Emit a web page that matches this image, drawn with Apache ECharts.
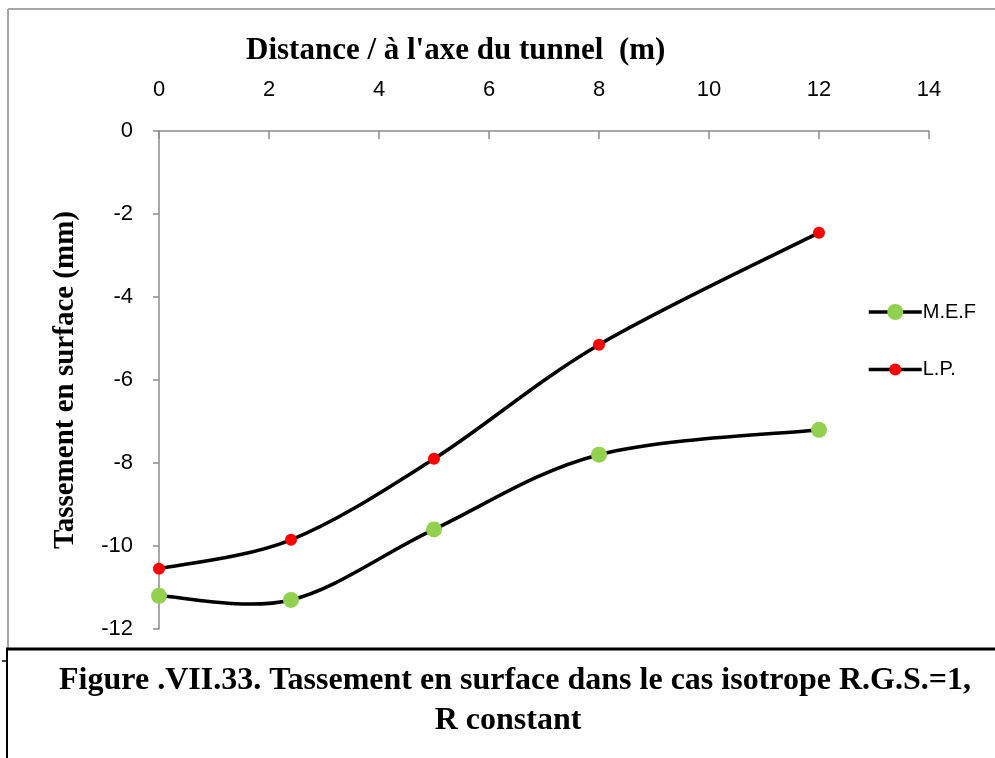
<!DOCTYPE html>
<html>
<head>
<meta charset="utf-8">
<script src="https://cdn.jsdelivr.net/npm/echarts@6/dist/echarts.min.js"></script>
<style>
html,body{margin:0;padding:0;background:#fff;}
#chart{width:995px;height:758px;}
</style>
</head>
<body>
<div id="chart"></div>
<script>
// ---- data ----
const distances = [0, 2.4, 5, 8, 12];
const mefValues = [-11.2, -11.3, -9.6, -7.8, -7.2];
const lpValues = [-10.55, -9.85, -7.9, -5.15, -2.45];
const seriesNames = ['M.E.F', 'L.P.'];
const xTitle = "Distance / à l'axe du tunnel  (m)";
const yTitle = 'Tassement en surface (mm)';
const captionLines = ['Figure .VII.33. Tassement en surface dans le cas isotrope R.G.S.=1,', 'R constant'];

const pairs = (xs, ys) => xs.map((x, i) => [x, ys[i]]);

const chart = echarts.init(document.getElementById('chart'), null, {renderer: 'canvas'});
const axisGray = '#8c8c8c';
const sansFont = '"Liberation Sans", Arial, sans-serif';
const serifFont = '"Liberation Serif", "Times New Roman", serif';

// Excel-like smoothed curve: one cubic bezier per segment, computed in pixel space via the axes
function smoothCurve(name, data) {
  return {
    name: name,
    type: 'custom',
    data: data,
    clip: false,
    silent: true,
    z: 2,
    renderItem: function (params, api) {
      const i = params.dataIndex;
      const n = data.length;
      if (i >= n - 1) return null;
      const P = k => api.coord(data[Math.max(0, Math.min(n - 1, k))]);
      const p0 = P(i - 1), p1 = P(i), p2 = P(i + 1), p3 = P(i + 2);
      return {
        type: 'bezierCurve',
        shape: {
          x1: p1[0], y1: p1[1],
          cpx1: p1[0] + (p2[0] - p0[0]) / 6, cpy1: p1[1] + (p2[1] - p0[1]) / 6,
          cpx2: p2[0] - (p3[0] - p1[0]) / 6, cpy2: p2[1] - (p3[1] - p1[1]) / 6,
          x2: p2[0], y2: p2[1]
        },
        style: {stroke: '#000', lineWidth: 3.5, fill: null, lineCap: 'round'}
      };
    }
  };
}

const legendCommon = {
  left: 862,
  itemWidth: 53,
  selectedMode: false,
  lineStyle: {color: '#000', width: 3.5, opacity: 1},
  textStyle: {fontFamily: sansFont, fontSize: 20, color: '#000', padding: [0, 0, 0, -4]}
};

chart.setOption({
  animation: false,
  backgroundColor: '#ffffff',
  title: {
    text: xTitle,
    left: 241,
    top: 30,
    textStyle: {fontFamily: serifFont, fontWeight: 'bold', fontSize: 31, color: '#000'}
  },
  grid: {left: 159, right: 66, top: 131, bottom: 129, containLabel: false},
  legend: [
    Object.assign({}, legendCommon, {data: [seriesNames[0]], top: 297, itemHeight: 20}),
    Object.assign({}, legendCommon, {data: [seriesNames[1]], top: 354.5, itemHeight: 15})
  ],
  xAxis: {
    type: 'value',
    position: 'top',
    min: 0, max: 14, interval: 2,
    axisLine: {show: true, onZero: false, lineStyle: {color: axisGray, width: 1.5}},
    axisTick: {show: true, inside: true, length: 8, lineStyle: {color: axisGray, width: 1.5}},
    axisLabel: {margin: 30, fontFamily: sansFont, fontSize: 22, color: '#000'},
    splitLine: {show: false}
  },
  yAxis: {
    type: 'value',
    min: -12, max: 0, interval: 2,
    name: yTitle,
    nameLocation: 'middle',
    nameGap: 79,
    nameRotate: 90,
    nameTextStyle: {fontFamily: serifFont, fontWeight: 'bold', fontSize: 29, color: '#000'},
    axisLine: {show: true, onZero: false, lineStyle: {color: axisGray, width: 1.5}},
    axisTick: {show: true, inside: false, length: 6, lineStyle: {color: axisGray, width: 1.5}},
    axisLabel: {margin: 26, fontFamily: sansFont, fontSize: 22, color: '#000'},
    splitLine: {show: false}
  },
  series: [
    smoothCurve('curve-mef', pairs(distances, mefValues)),
    smoothCurve('curve-lp', pairs(distances, lpValues)),
    {
      name: seriesNames[0],
      type: 'line',
      data: pairs(distances, mefValues),
      symbol: 'circle',
      symbolSize: 16,
      lineStyle: {color: '#000', width: 3.5, opacity: 0},
      itemStyle: {color: '#92D050', borderWidth: 0},
      z: 3
    },
    {
      name: seriesNames[1],
      type: 'line',
      data: pairs(distances, lpValues),
      symbol: 'circle',
      symbolSize: 12,
      lineStyle: {color: '#000', width: 3.5, opacity: 0},
      itemStyle: {color: '#FF0000', borderWidth: 0},
      z: 3
    }
  ],
  graphic: [
    {type: 'line', shape: {x1: 8, y1: 9, x2: 8, y2: 648}, style: {stroke: '#a6a6a6', lineWidth: 2}},
    {type: 'line', shape: {x1: 8, y1: 9, x2: 995, y2: 9}, style: {stroke: '#a6a6a6', lineWidth: 2}},
    {type: 'line', shape: {x1: 6, y1: 649, x2: 995, y2: 649}, style: {stroke: '#000', lineWidth: 3}},
    {type: 'line', shape: {x1: 7, y1: 648, x2: 7, y2: 758}, style: {stroke: '#000', lineWidth: 2}},
    {type: 'line', shape: {x1: 2, y1: 661, x2: 7, y2: 661}, style: {stroke: '#000', lineWidth: 1.5}},
    {
      type: 'text', x: 515, y: 681,
      style: {text: captionLines[0], align: 'center', verticalAlign: 'middle',
        font: 'bold 32px "Liberation Serif", "Times New Roman", serif', fill: '#000'}
    },
    {
      type: 'text', x: 508, y: 721,
      style: {text: captionLines[1], align: 'center', verticalAlign: 'middle',
        font: 'bold 32px "Liberation Serif", "Times New Roman", serif', fill: '#000'}
    }
  ]
});
</script>
</body>
</html>
